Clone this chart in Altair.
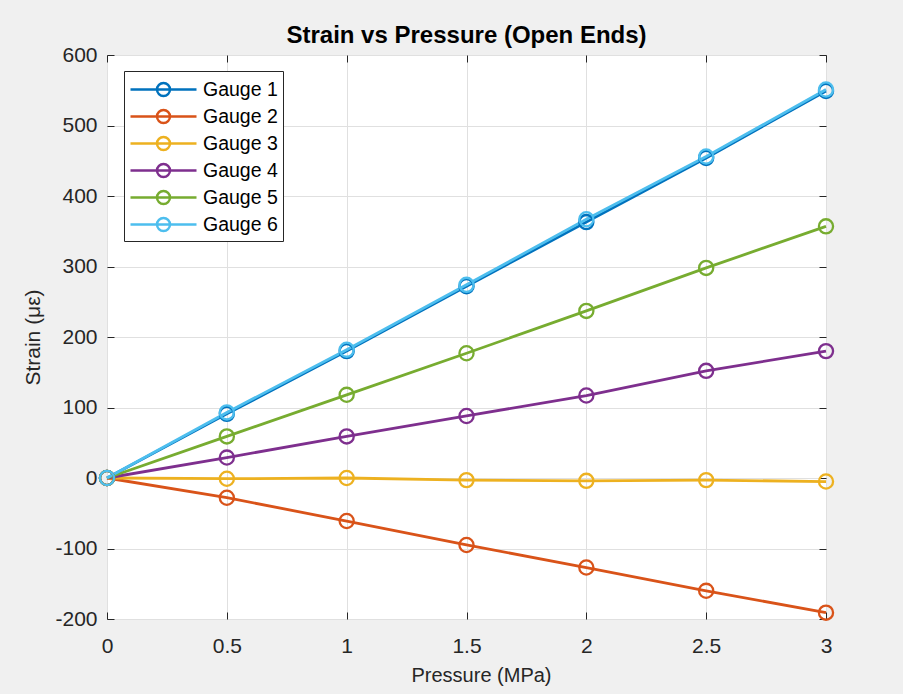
import altair as alt
import pandas as pd

pressure = [0, 0.5, 1, 1.5, 2, 2.5, 3]
gauge1 = [0, 91, 180, 272, 363, 454, 549]
gauge2 = [0, -28, -61, -95, -127, -160, -191]
gauge3 = [0, -1, 0, -3, -4, -3, -5]
gauge4 = [0, 29, 59, 88, 117, 152, 180]
gauge5 = [0, 59, 118, 177, 237, 298, 357]
gauge6 = [0, 93, 182, 274, 367, 456, 551]
names = ["Gauge 1", "Gauge 2", "Gauge 3", "Gauge 4", "Gauge 5", "Gauge 6"]
colors = ["#0072BD", "#D95319", "#EDB120", "#7E2F8E", "#77AC30", "#4DBEEE"]
x_ticks = [0, 0.5, 1, 1.5, 2, 2.5, 3]
y_ticks = [-200, -100, 0, 100, 200, 300, 400, 500, 600]

series = [gauge1, gauge2, gauge3, gauge4, gauge5, gauge6]
rows = []
for i, (n, vals) in enumerate(zip(names, series)):
    for p, v in zip(pressure, vals):
        rows.append({"Pressure": p, "Strain": v, "Gauge": n, "k": i})
df = pd.DataFrame(rows)

FONT = "Liberation Sans"
AX = "#262626"

xscale = alt.Scale(domain=[0, 3], nice=False, zero=False)
yscale = alt.Scale(domain=[-200, 600], nice=False, zero=False)

main_x = alt.Axis(orient="bottom", values=x_ticks, labelExpr="'' + datum.value",
                  grid=True, gridColor="#e0e0e0", gridWidth=1, ticks=False, tickSize=0,
                  domain=False, labelFontSize=21, labelColor=AX, labelFont=FONT,
                  labelPadding=33, labelBaseline="alphabetic", labelFlush=False,
                  labelOverlap=False, title="Pressure (MPa)", titleFontSize=20,
                  titleFont=FONT, titleColor=AX, titleFontWeight="normal",
                  titleX=374, titleY=62, titleAlign="center", titleBaseline="alphabetic")
main_y = alt.Axis(orient="left", values=y_ticks, labelExpr="'' + datum.value",
                  grid=True, gridColor="#e0e0e0", gridWidth=1, ticks=False, tickSize=0,
                  domain=False, labelFontSize=21, labelColor=AX, labelFont=FONT,
                  labelPadding=10, labelBaseline="middle", labelAlign="right",
                  labelFlush=False, labelOverlap=False, title="Strain (με)",
                  titleFontSize=21, titleFont=FONT, titleColor=AX,
                  titleFontWeight="normal", titleX=-68, titleY=282, titleAngle=-90,
                  titleAlign="center", titleBaseline="alphabetic")


def tick_axis(orient, vals):
    return alt.Axis(orient=orient, values=vals, labels=False, grid=False, domain=False,
                    ticks=True, tickSize=7, tickColor=AX, tickWidth=1, offset=-7,
                    title=None)


legend = alt.Legend(orient="none", legendX=17, legendY=16, title=None,
                    symbolType="M-1,0L4.5,0M2.29,0A0.54,0.54,0,1,1,1.21,0A0.54,0.54,0,1,1,2.29,0",
                    symbolSize=576, symbolStrokeWidth=2.5, symbolFillColor="transparent",
                    labelFontSize=19.5, labelFont=FONT, labelColor="#000000",
                    labelOffset=47, rowPadding=2, padding=5, strokeColor="#262626",
                    fillColor="white", cornerRadius=0, labelLimit=200)

color = alt.Color("Gauge:N", scale=alt.Scale(domain=names, range=colors), legend=legend)

ticks_layer = alt.Chart(df).mark_point(opacity=0).encode(
    x=alt.X("Pressure:Q", scale=xscale, axis=tick_axis("top", x_ticks)),
    y=alt.Y("Strain:Q", scale=yscale, axis=tick_axis("right", y_ticks)),
)

lines = alt.Chart(df).mark_line(strokeWidth=2.8).encode(
    x=alt.X("Pressure:Q", scale=xscale, axis=main_x),
    y=alt.Y("Strain:Q", scale=yscale, axis=main_y),
    color=color,
    order="Pressure:Q",
)

points = alt.Chart(df).mark_point(filled=False, size=200, strokeWidth=2.3, opacity=1).encode(
    x=alt.X("Pressure:Q", scale=xscale, axis=tick_axis("bottom", x_ticks)),
    y=alt.Y("Strain:Q", scale=yscale, axis=tick_axis("left", y_ticks)),
    color=color,
)

chart = alt.layer(ticks_layer, lines, points).resolve_axis(
    x="independent", y="independent"
).properties(
    width=719, height=564,
    autosize=alt.AutoSizeParams(type="none"),
    padding={"left": 107, "top": 55, "right": 77, "bottom": 75},
    background="#f0f0f0",
    title=alt.TitleParams("Strain vs Pressure (Open Ends)", fontSize=24, fontWeight="bold",
                          font=FONT, color="#000000", anchor="middle", offset=11,
                          baseline="alphabetic", dy=34),
).configure_view(fill="white", stroke="#262626", strokeWidth=1)

chart.save("out.html", embed_options={"renderer": "svg", "actions": False})
